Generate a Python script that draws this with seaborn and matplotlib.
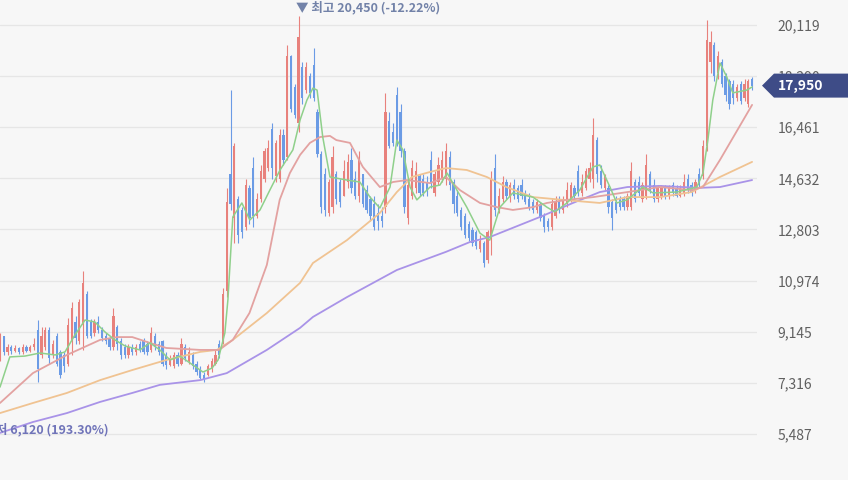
"""
Daily candlestick chart with 5/20/60/120-day moving averages (Korean stock widget style).
"""

import numpy as np
import matplotlib
matplotlib.use("Agg")
import matplotlib.pyplot as plt
import seaborn as sns
from matplotlib.patches import Polygon
from matplotlib.transforms import IdentityTransform

# ── Candles (open / high / low / close), one per trading day ─────────
opens = [
    8200, 9000, 8400, 8600, 8450, 8550, 8400, 8600, 8450, 8600,
    9200, 8300, 8600, 9200, 8300, 9000, 8400, 8300, 8000, 8800,
    9500, 8800, 9400, 10500, 9500, 9100, 9500, 9200, 9000, 8900,
    8600, 9300, 8800, 8600, 8300, 8600, 8400, 8700, 8800, 8700,
    8500, 9000, 8700, 8800, 8300, 7950, 7900, 8300, 8000, 8600,
    8100, 8300, 8000, 7800, 7600, 7600, 7800, 8000, 8700, 8800,
    10600, 14800, 13200, 13900, 13500, 12900, 14300, 15000, 13300, 13900,
    14600, 15000, 16400, 14700, 14600, 16200, 15400, 19000, 17900, 16600,
    18600, 17800, 18300, 18700, 17000, 15500, 14800, 13400, 13600, 14800,
    14500, 14000, 14500, 15300, 14600, 14000, 14800, 14200, 13900, 13700,
    13400, 13300, 13600, 16700, 16300, 17600, 17000, 15600, 13200, 14000,
    14300, 14700, 14600, 14500, 15300, 14100, 14500, 14600, 14600, 15400,
    14500, 14000, 13500, 13300, 13000, 12800, 12700, 12100, 12300, 11700,
    12500, 15000, 13500, 13900, 14500, 14000, 14400, 14300, 14400, 14100,
    13900, 13800, 13500, 13700, 13300, 13100, 12900, 13300, 13800, 13500,
    13700, 13900, 14300, 14900, 14100, 14300, 14600, 14600, 16000, 14900,
    14300, 14300, 13800, 13800, 13900, 13900, 13600, 13600, 14500, 14500,
    13900, 14000, 14800, 14400, 13900, 14000, 14300, 14000, 14400, 14300,
    14000, 14100, 14600, 14400, 14200, 14800, 14700, 15800, 18800, 19400,
    18400, 18800, 18300, 18100, 18000, 17500, 18000, 17500, 17300, 18200,
]
highs = [
    9100, 9000, 8700, 8650, 8650, 8600, 8700, 8650, 8650, 8900,
    9560, 9300, 9300, 9300, 8850, 9100, 8500, 8400, 9650, 10200,
    9700, 10300, 11300, 10600, 9600, 9600, 9700, 9300, 9100, 9000,
    10000, 9400, 8900, 8700, 8700, 8700, 8700, 8800, 8900, 8800,
    9300, 9100, 8800, 8850, 8400, 8300, 8400, 8400, 8900, 8700,
    8600, 8400, 8100, 7900, 7700, 8000, 8200, 8500, 8850, 10700,
    14300, 17800, 15900, 14000, 13600, 14600, 14400, 15400, 14100, 15100,
    15700, 16000, 16600, 16000, 16400, 16400, 19400, 19050, 18000, 20450,
    18800, 18800, 18400, 19300, 17100, 15600, 15000, 14600, 15800, 14900,
    14600, 15300, 15500, 15700, 14900, 15600, 14800, 14400, 14000, 14000,
    13700, 13600, 17700, 17000, 16600, 17900, 17300, 15700, 14600, 15300,
    15200, 14800, 14800, 14700, 15600, 14900, 15400, 15600, 15900, 15600,
    14600, 14200, 13600, 13400, 13100, 12900, 12800, 12600, 12400, 12800,
    14900, 15500, 14300, 14700, 14600, 14500, 14600, 14400, 14600, 14200,
    14100, 13900, 13900, 13800, 13400, 13200, 13900, 14000, 14000, 14000,
    14500, 14500, 14400, 15100, 14800, 15000, 15200, 16800, 16100, 15100,
    14800, 14400, 13900, 14000, 14000, 14000, 14100, 15200, 14600, 14700,
    14500, 15500, 14900, 14600, 14400, 14400, 14400, 14400, 14500, 14400,
    14400, 14800, 14800, 14500, 14600, 15000, 16000, 20300, 19900, 19500,
    19200, 18900, 18400, 18200, 18150, 18000, 18100, 18200, 18200, 18250,
]
lows = [
    8100, 8300, 8300, 8350, 8400, 8350, 8350, 8400, 8400, 8500,
    7340, 8200, 8500, 8000, 8200, 7900, 7500, 7700, 7900, 8300,
    8700, 8700, 8500, 8900, 8900, 9000, 9100, 8800, 8700, 8500,
    8500, 8500, 8150, 8200, 8200, 8300, 8300, 8400, 8350, 8300,
    8400, 8500, 8300, 7900, 7800, 7900, 7850, 7900, 7950, 8100,
    8000, 7800, 7600, 7450, 7350, 7550, 7700, 7950, 8200, 8700,
    10400, 13500, 12300, 12300, 12500, 12800, 13000, 12900, 13200, 13800,
    14500, 14900, 14600, 14500, 14500, 15100, 15300, 17000, 16800, 16300,
    17300, 17700, 17500, 17400, 15400, 13400, 13300, 13300, 13400, 13700,
    13600, 14000, 14300, 14100, 13900, 13800, 13600, 13400, 13100, 12800,
    12800, 12900, 13400, 15700, 15800, 15800, 15400, 13400, 13000, 13900,
    14100, 14000, 14000, 14000, 14300, 14000, 14400, 14500, 14400, 14200,
    13400, 13300, 12800, 12500, 12400, 12200, 12100, 12000, 11450, 11600,
    11900, 13300, 13400, 13800, 13900, 13800, 13900, 13800, 13900, 13700,
    13500, 13400, 13400, 13100, 12700, 12750, 12800, 13200, 13400, 13400,
    13600, 13800, 13900, 14000, 14000, 14200, 14500, 14300, 14500, 14300,
    14200, 13400, 12800, 13400, 13500, 13500, 13500, 13500, 13800, 14000,
    13800, 13900, 14100, 13800, 13800, 13900, 13900, 13900, 14000, 13950,
    13950, 14000, 14100, 14000, 14100, 14300, 14600, 15600, 18400, 18100,
    18200, 17900, 17400, 17100, 17300, 17400, 17300, 17400, 17200, 17800,
]
closes = [
    9000, 8400, 8600, 8450, 8550, 8400, 8600, 8450, 8600, 8700,
    7800, 9000, 9200, 8200, 8700, 8000, 7600, 7900, 9400, 10000,
    8900, 10200, 10900, 9000, 9000, 9500, 9200, 8900, 8800, 8600,
    9700, 8700, 8300, 8300, 8600, 8400, 8600, 8500, 8400, 8400,
    9100, 8600, 8400, 8000, 7950, 8200, 8300, 8000, 8700, 8200,
    8400, 7900, 7700, 7500, 7400, 7900, 8100, 8300, 8300, 10500,
    13800, 13700, 15800, 12600, 12700, 14400, 13200, 13300, 13900, 14900,
    15600, 15700, 15000, 15900, 16200, 15300, 19000, 17100, 16900, 19700,
    17500, 18600, 17700, 17500, 15500, 13600, 13500, 14500, 15400, 13900,
    13800, 14900, 15200, 14300, 14000, 15300, 13700, 13500, 13300, 12900,
    13100, 13100, 17000, 15800, 15900, 15900, 15600, 13600, 14400, 15000,
    14900, 14100, 14100, 14200, 14500, 14800, 15100, 15300, 15600, 14400,
    13700, 13400, 12900, 12600, 12500, 12300, 12200, 12400, 11600, 12700,
    14600, 13500, 14000, 14500, 14000, 14400, 14000, 13900, 14000, 13800,
    13600, 13500, 13800, 13200, 12900, 12900, 13700, 13800, 13500, 13900,
    14200, 14400, 14000, 14100, 14500, 14900, 15000, 16200, 14800, 14400,
    14700, 13600, 13200, 13500, 13600, 13600, 14000, 14900, 13900, 14100,
    14400, 15100, 14200, 13900, 14300, 14300, 14000, 14300, 14100, 14000,
    14300, 14500, 14200, 14100, 14500, 14400, 15800, 19600, 19500, 18300,
    19000, 18000, 17600, 17300, 17500, 17900, 17400, 18000, 18100, 17950,
]

# ── Moving averages (day index, price) ───────────────────────────────
ma5_day = [0, 2.6, 6.6, 10.6, 14.6, 17.2, 19.8, 22.5, 25.1, 27.8, 30.4, 33.1,
           37, 39.7, 42.3, 45, 47.6, 50.3, 53.7, 56.1, 57.7, 59.5, 60.3, 61.6,
           64, 66.1, 68.8, 71.4, 74.1, 77.5, 79.4, 81.2, 82.8, 83.9, 85.4, 87.3,
           91.8, 95.2, 97.9, 100.5, 103.2, 105, 106.6, 108.5, 110.3, 113.8,
           116.4, 118.3, 120.9, 123.5, 127, 129.6, 132.3, 135.7, 141, 144.7,
           146.8, 150, 153.4, 156.9, 158.7, 161.4, 163.2, 165.9, 170.1, 172.8,
           179.1, 184.4, 186, 187.3, 188.6, 190.5, 192.3, 193.9, 197.6, 199]
ma5_val = [7160, 8240, 8270, 8380, 8310, 8420, 9020, 9560, 9490, 9130, 8850, 8630,
           8490, 8740, 8490, 8130, 8270, 8020, 7700, 7840, 8130, 9100, 10280, 13250,
           13750, 13140, 13500, 14210, 14930, 15650, 16720, 17430, 17860, 17790, 16110, 14680,
           14570, 14500, 13960, 13570, 14320, 16000, 15650, 14320, 13860, 14320,
           14390, 14820, 14210, 13600, 12670, 12420, 13600, 14110, 13960, 13600,
           13430, 13750, 14210, 15040, 15110, 14320, 13750, 13860, 14320, 14110,
           14140, 14320, 14820, 16000, 17430, 18760, 18260, 17690, 17790, 17900]

ma20_day = [0, 8.7, 17.7, 26.5, 31, 35, 39.7, 44, 53, 58, 61.6, 66, 70.6, 74,
            76.7, 79.4, 82, 84.7, 87.3, 89, 92.6, 96, 100.5, 104, 107.7, 113.8,
            118, 121.7, 127, 131.5, 135.7, 141, 144.7, 150, 157, 166, 174.6,
            183, 186, 190.5, 199]
ma20_val = [6590, 7660, 8310, 8850, 8950, 8950, 8740, 8560, 8490, 8490, 8850, 9810,
            11530, 13860, 14820, 15470, 15900, 16110, 16150, 16000, 15900, 15040,
            14320, 14500, 14570, 14460, 14680, 14210, 13750, 13600, 13500, 13600,
            13750, 13860, 13960, 14140, 14320, 14210, 14320, 15290, 17260]

ma60_day = [0, 8.7, 17.7, 26.5, 35, 44, 53, 57.4, 61.6, 70.6, 79.4, 82.8, 91.8,
            100.5, 105, 109, 113.8, 118, 123.5, 128.8, 134, 141, 149, 158.7,
            166, 174.6, 183, 190.5, 199]
ma60_val = [6230, 6590, 6950, 7410, 7770, 8130, 8420, 8490, 8850, 9810, 10890,
            11600, 12420, 13390, 14140, 14680, 14860, 15000, 14930, 14680, 14320,
            13960, 13860, 13750, 13960, 13960, 14140, 14680, 15220]

ma120_day = [0, 8.7, 17.7, 26.5, 35, 42.3, 53, 60, 70.6, 79.4, 82.8, 91.8, 105,
             118, 124.3, 129.6, 142.9, 151.6, 158.7, 166, 174.6, 185, 190.5, 199]
ma120_val = [5520, 5910, 6230, 6630, 6950, 7240, 7410, 7660, 8490, 9280, 9670,
             10380, 11350, 12000, 12350, 12530, 13250, 13750, 14140, 14320, 14360,
             14290, 14320, 14570]

price_ticks = [5487, 7316, 9145, 10974, 12803, 14632, 16461, 18290, 20119]
period_low = 6120

UP, DOWN = "#e8817c", "#6b9be5"
BG = "#f7f7f7"


def main():
    sns.set_theme(style="white")
    plt.rcParams["font.family"] = ["Noto Sans CJK KR", "DejaVu Sans"]

    fig = plt.figure(figsize=(8.48, 4.8), dpi=100, facecolor=BG)
    ax = fig.add_axes([0, 18 / 480, 757 / 848, 462 / 480])
    ax.set_facecolor(BG)

    o, h, l, c = (np.array(a, dtype=float) for a in (opens, highs, lows, closes))
    day = np.arange(len(o))
    cols = np.where(c >= o, UP, DOWN)

    # candles: wick + body
    ax.vlines(day, l, h, colors=cols, linewidth=0.8, zorder=2)
    body = np.maximum(np.abs(c - o), 60)
    ax.bar(day, body, bottom=np.minimum(o, c), width=0.6, color=cols,
           linewidth=0, zorder=2)

    # moving averages
    for xs, ys, col, lw in [
        (ma120_day, ma120_val, "#a993e8", 1.3),
        (ma60_day, ma60_val, "#f0c392", 1.3),
        (ma20_day, ma20_val, "#e3a2a1", 1.3),
        (ma5_day, ma5_val, "#8fd08b", 1.1),
    ]:
        sns.lineplot(x=xs, y=ys, ax=ax, color=col, linewidth=lw, zorder=3)

    ax.set_xlim(0, 200.3)
    ax.set_ylim(4479, 21014)
    ax.set_xticks([])
    ax.set_yticks(price_ticks)
    ax.set_yticklabels([f"{v:,}" for v in price_ticks])
    ax.yaxis.tick_right()
    ax.tick_params(axis="y", length=0, pad=15, labelsize=10, labelcolor="#606060")
    ax.yaxis.grid(True, color="#e6e6e6", linewidth=0.9)
    ax.xaxis.grid(False)
    ax.set_xlabel("")
    ax.set_ylabel("")
    for s in ax.spines.values():
        s.set_visible(False)

    # period high label
    hi_i = int(np.argmax(h))
    hi = h[hi_i]
    ax.annotate(f"▼ 최고 {hi:,.0f} ({(c[-1] / hi - 1) * 100:.2f}%)",
                xy=(hi_i, hi), xytext=(-3, 8), textcoords="offset pixels",
                ha="left", va="center", fontsize=9, fontweight="bold",
                color="#7282a8", annotation_clip=False, zorder=5)

    # period low label (low itself lies left of the visible window)
    ax.text(109 / 757, 32 / 462,
            f"▲ 최저 {period_low:,} ({(c[-1] / period_low - 1) * 100:.2f}%)",
            transform=ax.transAxes, ha="right", va="center", fontsize=9,
            fontweight="bold", color="#7074b9", clip_on=False, zorder=5)

    # current price badge
    py = ax.transData.transform((0, c[-1]))[1]
    badge = Polygon([(762, py), (774, py + 12), (848, py + 12), (848, py - 12),
                     (774, py - 12)], closed=True, facecolor="#3e4c87",
                    edgecolor="none", transform=IdentityTransform(), zorder=10)
    fig.add_artist(badge)
    fig.text(778, py, f"{c[-1]:,.0f}", transform=IdentityTransform(),
             ha="left", va="center", fontsize=10, fontweight="bold",
             color="white", zorder=11)

    fig.savefig("out.png", dpi=100, facecolor=BG)


if __name__ == "__main__":
    main()
